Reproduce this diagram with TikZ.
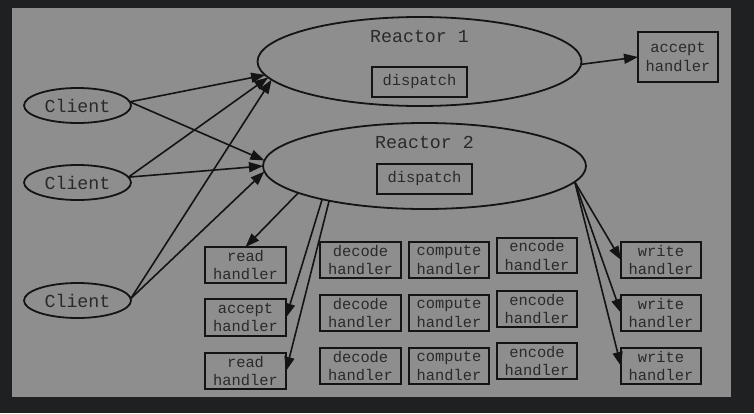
\documentclass[tikz,border=0pt]{standalone}
\usepackage{fontspec}
\setmainfont{Liberation Mono}
\usetikzlibrary{shapes.geometric,arrows.meta}
\definecolor{outerbg}{HTML}{1F2022}
\definecolor{panel}{HTML}{8E8E8E}
\definecolor{ink}{HTML}{141414}
\definecolor{txt}{HTML}{2A2A2A}
\tikzset{
  big/.style={font=\fontsize{18.3}{21}\selectfont, text=txt},
  small/.style={font=\fontsize{15.4}{18.3}\selectfont, text=txt},
  ell/.style={ellipse, draw=ink, line width=1.8pt, inner sep=0pt, outer sep=0pt},
  hbox/.style={rectangle, draw=ink, line width=2pt, small, align=center,
    minimum width=80pt, minimum height=36pt, inner sep=0pt, outer sep=0pt},
  dbox/.style={hbox, minimum width=95pt, minimum height=30pt},
  conn/.style={draw=ink, line width=1.6pt, -{Triangle[length=14pt,width=10pt]}},
}
\begin{document}
\begin{tikzpicture}[x=1pt,y=-1pt]
\useasboundingbox (0,0) rectangle (754,413);
\fill[outerbg] (0,0) rectangle (754,413);
\fill[panel] (12,8) rectangle (731,397);

% clients
\node[ell, big, minimum width=107pt, minimum height=35pt] (c1) at (77.5,105.5) {Client};
\node[ell, big, minimum width=107pt, minimum height=35pt] (c2) at (77.5,182.5) {Client};
\node[ell, big, minimum width=107pt, minimum height=35pt] (c3) at (77.5,300.5) {Client};

% reactors
\node[ell, minimum width=324pt, minimum height=89pt] (r1) at (419.5,61.5) {};
\node[big] (r1t) at (419.5,36) {Reactor 1};
\node[dbox] (d1) at (419.5,82) {dispatch};

\node[ell, minimum width=323pt, minimum height=86pt] (r2) at (424.5,166) {};
\node[big] (r2t) at (424.5,142) {Reactor 2};
\node[dbox] (d2) at (424.5,179) {dispatch};

% top accept handler
\node[hbox, minimum height=50pt] (acc1) at (678,57) {accept\\handler};

% left handlers
\node[hbox, minimum width=81pt] (rd1) at (245.5,265) {read\\handler};
\node[hbox, minimum width=81pt, minimum height=37pt] (acc2) at (245.5,317.5) {accept\\handler};
\node[hbox, minimum width=81pt] (rd2) at (245.5,371) {read\\handler};

% decode
\node[hbox, minimum width=81pt] (de1) at (360.5,260) {decode\\handler};
\node[hbox, minimum width=81pt] (de2) at (360.5,313) {decode\\handler};
\node[hbox, minimum width=81pt] (de3) at (360.5,366) {decode\\handler};
% compute
\node[hbox] (co1) at (449,260) {compute\\handler};
\node[hbox] (co2) at (449,313) {compute\\handler};
\node[hbox] (co3) at (449,366) {compute\\handler};
% encode
\node[hbox, minimum height=35pt] (en1) at (537,255.5) {encode\\handler};
\node[hbox] (en2) at (537,309) {encode\\handler};
\node[hbox] (en3) at (537,361) {encode\\handler};
% write
\node[hbox] (wr1) at (661,260) {write\\handler};
\node[hbox] (wr2) at (661,313) {write\\handler};
\node[hbox] (wr3) at (661,366) {write\\handler};

% client edges
\draw[conn] (c1.4) -- (r1.185);
\draw[conn] (c1.4) -- (r2.178);
\draw[conn] (c2.6) -- (r1.186);
\draw[conn] (c2.6) -- (r2.180);
\draw[conn] (c3.2) -- (r1.187);
\draw[conn] (c3.2) -- (r2.182);

% reactor 1
\draw[conn] (r1.-1) -- (acc1.west);

% reactor 2 downward
\draw[conn] (r2.192) -- (rd1.north);
\draw[conn] (r2.198) -- (acc2.east);
\draw[conn] (r2.200) -- (rd2.east);
\draw[conn] (r2.-6) -- (wr1.west);
\draw[conn] (r2.-6) -- (wr2.west);
\draw[conn] (r2.-6) -- (wr3.west);
\end{tikzpicture}
\end{document}
